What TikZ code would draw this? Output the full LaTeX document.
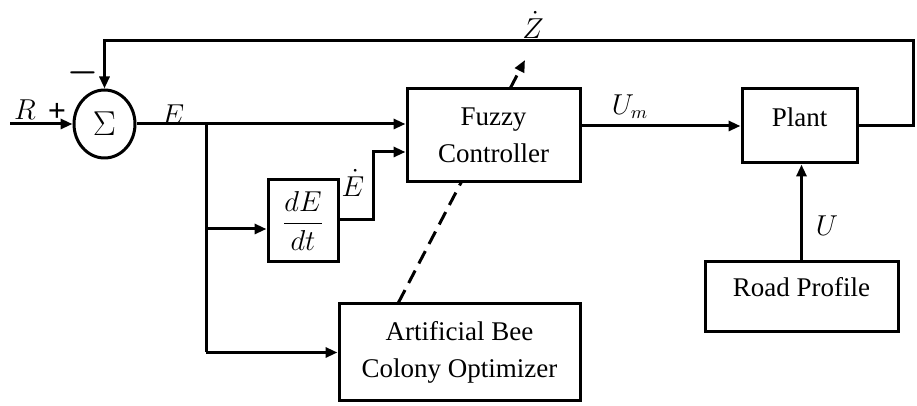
\documentclass[tikz,border=0pt]{standalone}
\usepackage{amsmath}
\usepackage{fontspec}
\setmainfont{Liberation Serif}
\usetikzlibrary{arrows.meta,shapes.geometric,backgrounds}

\begin{document}
\begin{tikzpicture}[x=0.5pt, y=-0.5pt, line width=1.5pt,
                    >={Triangle[length=6pt,width=5pt]},
                    box/.style={draw, fill=white, inner sep=0pt, align=center,
                                font=\fontsize{13.5}{18.5}\selectfont},
                    lbl/.style={font=\fontsize{13.5}{13.5}\selectfont, inner sep=0pt}]

% full original canvas
\useasboundingbox (0,0) rectangle (917,406);

% ---- blocks ----
\node[draw, ellipse, inner sep=0pt, minimum width=30.5pt, minimum height=34pt,
      font=\fontsize{17}{17}\selectfont] (sum) at (104.5,124) {$\Sigma$};
\node[box, minimum width=86.5pt, minimum height=46.5pt] (fuzzy) at (493.5,135.5) {Fuzzy\\Controller};
\node[box, minimum width=35pt, minimum height=41pt] (dedt) at (303,221) {$\dfrac{dE}{dt}$};
\node[box, minimum width=120.5pt, minimum height=48.5pt] (abc) at (459.5,352.5) {Artificial Bee\\Colony Optimizer};
\node[box, minimum width=57.5pt, minimum height=37pt,
      label={[lbl, yshift=4.5pt]center:Plant}] (plant) at (799.5,126) {};
\node[box, minimum width=96.5pt, minimum height=35pt,
      label={[lbl, yshift=5pt]center:Road Profile}] (road) at (801.5,297) {};

% free ends and branch points
\coordinate (rIn)   at (10,124);
\coordinate (fbR)   at (913,41);
\coordinate (brTop) at (206,124);
\coordinate (brBot) at (206,352.5);
\coordinate (edK)   at (373,220);
\coordinate (zTip)  at (525,60);

% ---- dashed tuning path (behind the fuzzy box) ----
\begin{scope}[on background layer]
  \draw[line width=1.5pt, -{Triangle[length=6pt,width=5pt]}, dash pattern=on 7pt off 4pt]
    ([xshift=30.5pt]abc.north west) -- (zTip);
\end{scope}

% ---- signal paths ----
\draw[->] (rIn) -- (sum.west);
\draw[->] (sum.east) -- (sum.east -| fuzzy.west);
\draw (brTop) -- (brBot);
\draw[->] (brBot) -- (abc.west);
\draw[->] (brTop |- 229,229) -- ([yshift=-4pt]dedt.west);
\draw[->] (dedt.east |- edK) -- (edK) -- (edK |- 0,152) -- ([yshift=-8.25pt]fuzzy.west);
\draw[->] (plant.west -| fuzzy.east) -- (plant.west);
\draw[->] (road.north) -- (road.north |- plant.south);
% feedback loop
\draw[->] (plant.east) -- (plant.east -| fbR) -- (fbR) -- (fbR -| sum.north) -- (sum.north);

% ---- labels ----
\node[lbl] (lR)  at (25,110)  {$R$};
\node[lbl, font=\fontsize{16}{16}\selectfont\bfseries] (lP) at (57,112) {+};
\node[lbl, font=\fontsize{16}{16}\selectfont] (lM) at (83,73) {$\boldsymbol{-}$};
\node[lbl] (lE)  at (173,115) {$E$};
\node[lbl] (lEd) at (353,183) {$\dot{E}$};
\node[lbl] (lZd) at (533,25)  {$\dot{Z}$};
\node[lbl] (lUm) at (630,107) {$U_m$};
\node[lbl] (lU)  at (827,226) {$U$};

\end{tikzpicture}
\end{document}
